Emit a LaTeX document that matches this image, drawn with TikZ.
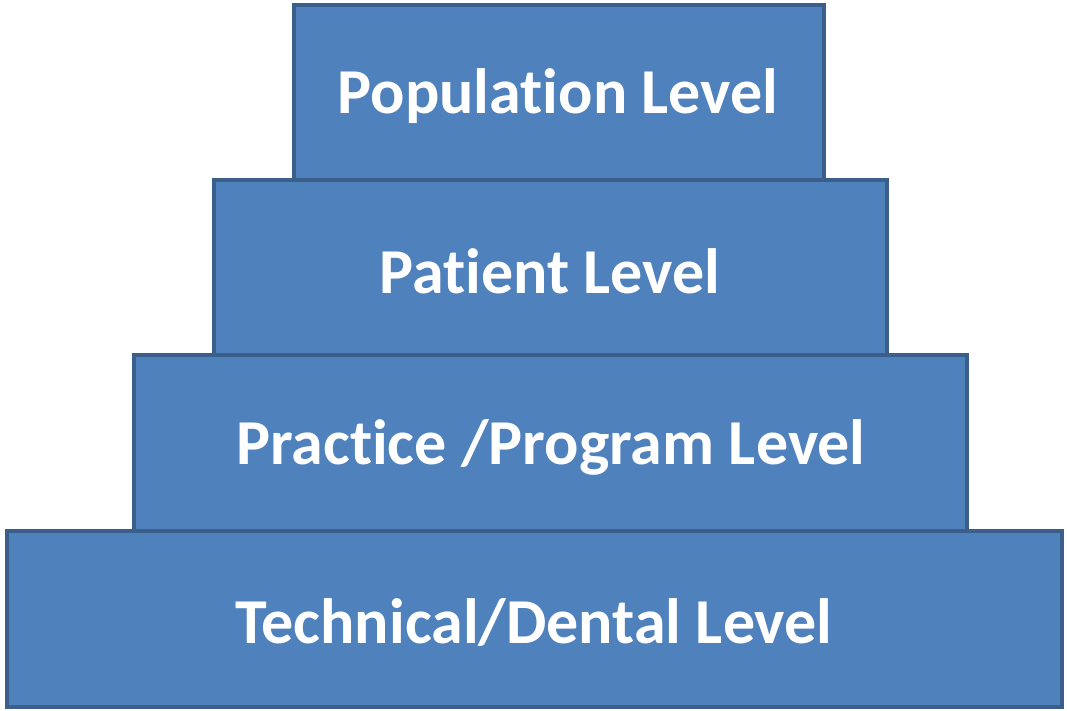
\documentclass[tikz,border=0pt]{standalone}
\usepackage{fontspec}
\setmainfont{Carlito}[Ligatures=NoCommon]
\definecolor{boxfill}{HTML}{4F81BD}
\definecolor{boxline}{HTML}{3A5F8B}
\begin{document}
\begin{tikzpicture}[x=1pt,y=-1pt,
  level/.style={draw=boxline, fill=boxfill, line width=4.5pt},
  label/.style={text=white, font=\fontsize{64}{70}\selectfont\bfseries, inner sep=0pt}]
\useasboundingbox (0,0) rectangle (1067,711);
\draw[level] (7,531) rectangle (1062,707);
\draw[level] (134,355) rectangle (967,531);
\draw[level] (214,180) rectangle (887,355);
\draw[level] (294,5) rectangle (824,180);
\node[label] (pop) at (558,96) {Population Level};
\node[label] (pat) at (550,271) {Patient Level};
\node[label] (pra) at (551,447) {Practice /Program Level};
\node[label] (tec) at (534,622) {Technical/Dental Level};
\end{tikzpicture}
\end{document}
